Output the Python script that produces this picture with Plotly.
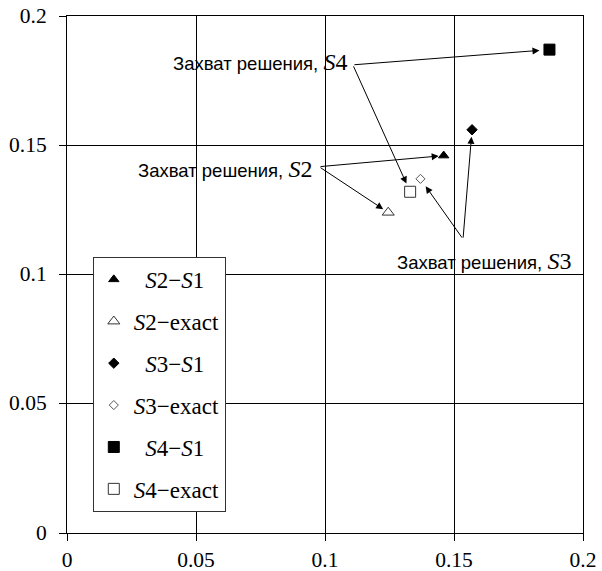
import plotly.graph_objects as go

# ---- data ----
series_names = ["\u00a0\u00a0<i>S</i>2\u2212<i>S</i>1", "<i>S</i>2\u2212exact",
                "\u00a0\u00a0<i>S</i>3\u2212<i>S</i>1", "<i>S</i>3\u2212exact",
                "\u00a0\u00a0<i>S</i>4\u2212<i>S</i>1", "<i>S</i>4\u2212exact"]
series_x = [0.146, 0.1245, 0.157, 0.137, 0.187, 0.133]
series_y = [0.146, 0.124, 0.156, 0.137, 0.187, 0.132]

tick_vals = [0, 0.05, 0.1, 0.15, 0.2]
tick_text = ["0", "0.05", "0.1", "0.15", "0.2"]

label_texts = ["Захват решения, ", "Захват решения, ", "Захват решения, "]
label_sub = ["4", "2", "3"]
# label anchors (text position) and arrow tail points, data coordinates
label_pos = [(0.1093, 0.1822), (0.0958, 0.1408), (0.1271, 0.1053)]
label_anchor = ["right", "right", "left"]
tail_pos = [(0.1108, 0.1811), (0.0977, 0.1417), (0.1535, 0.1137)]
# which series each label points to
label_targets = [[4, 5], [0, 1], [2, 3]]

# ---- styles ----
symbols = ["triangle-up", "triangle-up-open", "diamond", "diamond-open", "square", "square-open"]
sizes = [9, 10.5, 8, 7, 11, 11]
colors = ["black", "#333333", "black", "#555555", "black", "#333333"]
standoffs = {4: 10, 5: 9, 0: 5, 1: 6, 2: 7, 3: 9}

SERIF = "Liberation Serif"
fig = go.Figure()
for i in range(len(series_names)):
    fig.add_trace(go.Scatter(
        x=[series_x[i]], y=[series_y[i]], mode="markers", name=series_names[i],
        legendgroup="g%d" % i,
        marker=dict(symbol=symbols[i], size=sizes[i], color=colors[i],
                    line=dict(width=1, color=colors[i])),
    ))

annotations = []
for k in range(3):
    txt = (label_texts[k] +
           "<span style='font-family:%s;font-size:24px'><i>S</i>%s</span>" % (SERIF, label_sub[k]))
    annotations.append(dict(
        x=label_pos[k][0], y=label_pos[k][1], xref="x", yref="y",
        text=txt, showarrow=False, xanchor=label_anchor[k], yanchor="middle",
        font=dict(family="Liberation Sans", size=18.5, color="black"),
    ))
    for t in label_targets[k]:
        annotations.append(dict(
            x=series_x[t], y=series_y[t], xref="x", yref="y",
            ax=tail_pos[k][0], ay=tail_pos[k][1], axref="x", ayref="y",
            text="", showarrow=True, arrowhead=2, arrowsize=1.4, arrowwidth=1,
            arrowcolor="black", standoff=standoffs[t],
        ))

axis_common = dict(
    range=[0, 0.2], tickvals=tick_vals, ticktext=tick_text,
    showgrid=True, gridcolor="black", gridwidth=1,
    showline=True, linecolor="black", linewidth=1, mirror=True,
    ticks="outside", ticklen=7, tickcolor="black", zeroline=False,
    automargin=False, ticklabeloverflow="allow",
    tickfont=dict(family=SERIF, size=21.5, color="black"),
)

fig.update_layout(
    width=602, height=571,
    margin=dict(l=67, r=19, t=16, b=38),
    paper_bgcolor="white", plot_bgcolor="white",
    xaxis=dict(**axis_common, ticklabelstandoff=0),
    yaxis=dict(**axis_common, ticklabelstandoff=8, ticklabelshift=-1),
    showlegend=True,
    legend=dict(x=0.05, y=0.534, xanchor="left", yanchor="top",
                bgcolor="white", bordercolor="#333333", borderwidth=1,
                font=dict(family=SERIF, size=23, color="black"),
                traceorder="grouped", tracegroupgap=9),
    annotations=annotations,
)

# remove the browser's default 8px body margin so the figure fills the window
fig.write_html("out.html", config={"displayModeBar": False},
               post_script="document.body.style.margin='0';")
